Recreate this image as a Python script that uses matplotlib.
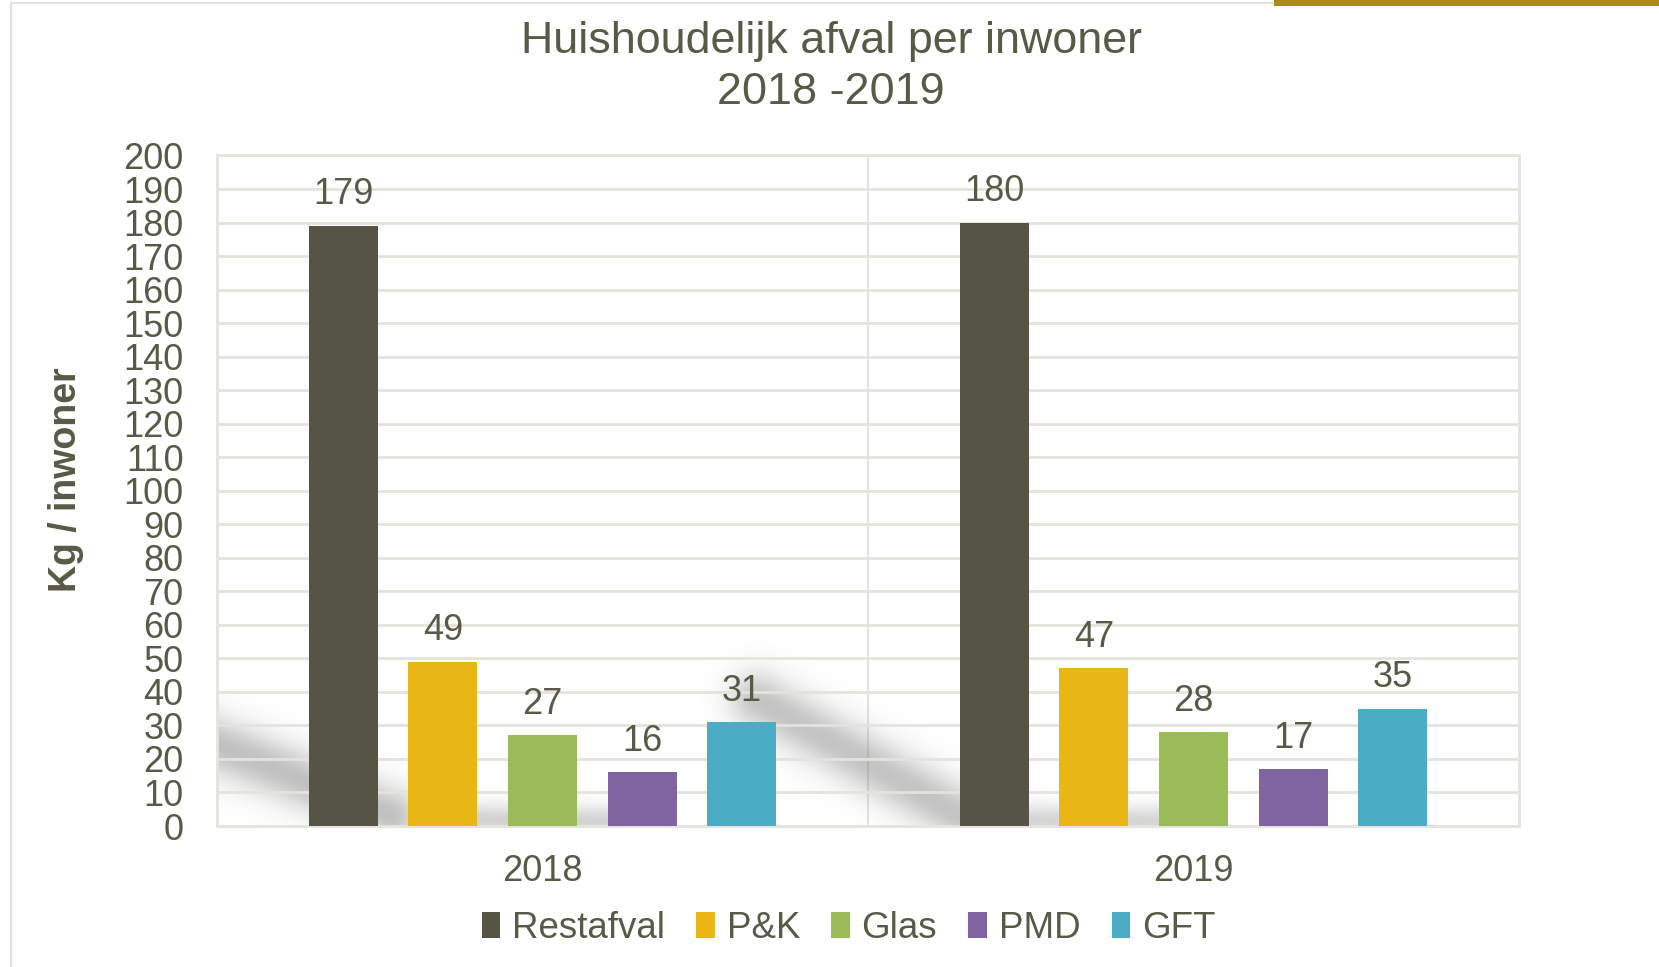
import numpy as np
import matplotlib.pyplot as plt
from matplotlib.patches import Rectangle

# ------------------------------ data ------------------------------
years = ["2018", "2019"]
series = ["Restafval", "P&K", "Glas", "PMD", "GFT"]
restafval = [179, 180]
pk = [49, 47]
glas = [27, 28]
pmd = [16, 17]
gft = [31, 35]
values = [restafval, pk, glas, pmd, gft]
colors = ["#565445", "#E8B615", "#9BBB59", "#8064A2", "#4BACC6"]

txt = "#595947"
grid = "#E4E4DC"
plt.rcParams["font.family"] = ["Liberation Sans", "DejaVu Sans"]

W, H = 1659, 967
fig = plt.figure(figsize=(W / 100, H / 100), dpi=100)
ax = fig.add_axes([0.1308, 0.1458, 0.7848, 0.6934])

# outer frame and gold strip
fig.patches.append(Rectangle((0.0066, -0.01), 1.1, 1.007, transform=fig.transFigure,
                             fill=False, edgecolor="#E2E2DA", linewidth=1.5))
fig.patches.append(Rectangle((0.768, 0.994), 0.24, 0.01, transform=fig.transFigure,
                             facecolor="#A98A1E", edgecolor="none"))

# soft diagonal shadows from the background picture (decoration only, pixel coords)
def seg_dist(px, py, a, b):
    ax_, ay_ = a
    bx_, by_ = b
    dx, dy = bx_ - ax_, by_ - ay_
    t = np.clip(((px - ax_) * dx + (py - ay_) * dy) / (dx * dx + dy * dy), 0, 1)
    return np.hypot(px - (ax_ + t * dx), py - (ay_ + t * dy))

gx, gy = np.meshgrid(np.arange(217, 1519), np.arange(156, 826))
alpha = np.zeros(gx.shape)
bands = [((200, 738), (390, 815), 28, 0.42), ((390, 818), (625, 822), 16, 0.30),
         ((758, 700), (965, 818), 28, 0.40), ((965, 819), (1195, 822), 16, 0.28)]
for a, b, s, amax in bands:
    alpha = np.maximum(alpha, amax * np.exp(-(seg_dist(gx, gy, a, b) / s) ** 2))
shadow = np.zeros(gx.shape + (4,))
shadow[..., :3] = 0.42
shadow[..., 3] = alpha
ax.imshow(shadow, extent=(0, 1, 0, 1), transform=ax.transAxes, aspect="auto",
          zorder=1, interpolation="bilinear")

x = np.arange(len(years))
step = 0.153
width = 0.106
for i, (name, vals, c) in enumerate(zip(series, values, colors)):
    pos = x + (i - 2) * step
    ax.bar(pos, vals, width=width, color=c, label=name, zorder=3)
    for p, v in zip(pos, vals):
        ax.text(p, v + 4, str(v), ha="center", va="bottom", fontsize=26, color=txt, zorder=4)

ax.set_xlim(-0.5, 1.5)
ax.set_ylim(0, 200)
ax.set_yticks(np.arange(0, 201, 10))
ax.set_xticks(x)
ax.set_xticklabels(years)
ax.tick_params(axis="y", labelsize=26, labelcolor=txt, length=0, pad=24)
ax.tick_params(axis="x", labelsize=26, labelcolor=txt, length=0, pad=20)
ax.grid(axis="y", color=grid, linewidth=2, zorder=0)
ax.axvline(0.5, color=grid, linewidth=1.5, zorder=0)
for s in ax.spines.values():
    s.set_color(grid)
    s.set_linewidth(2)

ax.set_ylabel("Kg / inwoner", fontsize=27, fontweight="bold", color=txt,
              family=["Liberation Sans Narrow", "Liberation Sans"])
ax.yaxis.set_label_coords(-0.102, 0.516)

fig.text(0.501, 0.957, "Huishoudelijk afval per inwoner", ha="center", va="center",
         fontsize=32.3, color=txt)
fig.text(0.501, 0.904, "2018 -2019", ha="center", va="center", fontsize=32.3, color=txt)

fig.legend(loc="center", bbox_to_anchor=(0.5115, 0.04), ncol=5, frameon=False,
           fontsize=26.5, labelcolor=txt, handlelength=0.5, handleheight=0.73,
           handletextpad=0.32, columnspacing=0.85)

fig.savefig("out.png", dpi=100)
